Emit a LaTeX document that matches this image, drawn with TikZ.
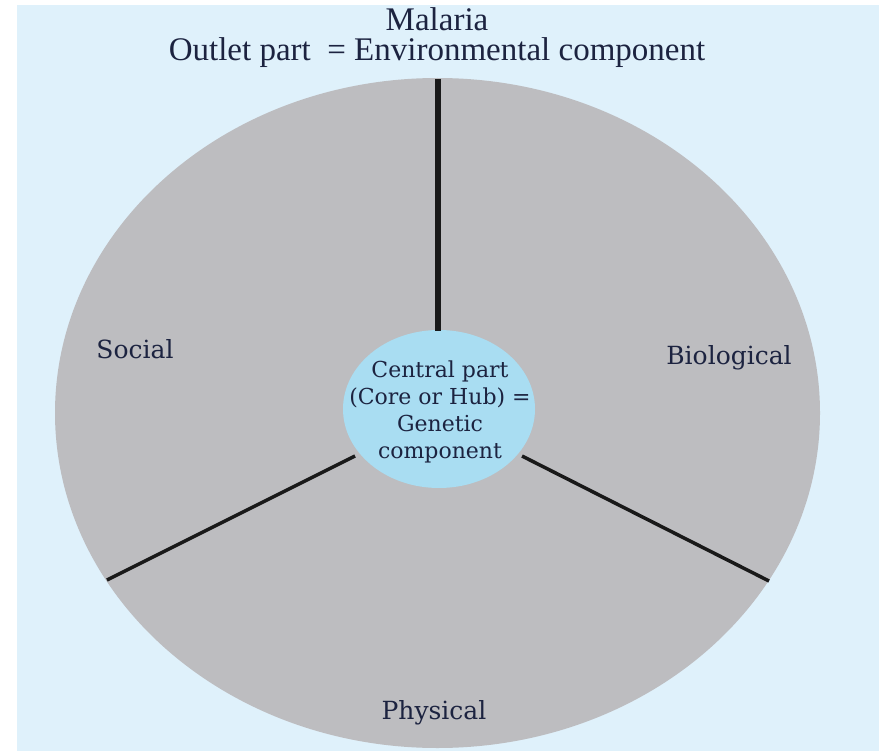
\documentclass[tikz,border=0pt]{standalone}
\usepackage{fontspec}
\setmainfont{Liberation Serif}
\newfontfamily\labfont{DejaVu Serif}
\usetikzlibrary{shapes.geometric}
\definecolor{bgblue}{HTML}{DFF1FB}
\definecolor{disc}{HTML}{BDBDC0}
\definecolor{hub}{HTML}{A9DDF2}
\definecolor{ink}{HTML}{1C2340}
\tikzset{
  lbl/.style={text=ink, font=\labfont\fontsize{25}{30}\selectfont, inner sep=0pt},
  toplbl/.style={text=ink, font=\fontsize{33}{38}\selectfont, inner sep=0pt},
  spoke/.style={draw=black!90, line width=3.5pt},
}
\begin{document}
\begin{tikzpicture}[x=1pt,y=-1pt]
\useasboundingbox (0,0) rectangle (885,751);
\fill[white] (0,0) rectangle (885,751);
\fill[bgblue] (17,5) rectangle (879,751);
% outer disc
\node[ellipse, fill=disc, minimum width=765pt, minimum height=670pt, inner sep=0pt] (outer) at (437.5,413) {};
\coordinate (top) at (438,79);
\coordinate (bl) at (107,580);
\coordinate (br) at (769,581);
% hub
\node[ellipse, fill=hub, minimum width=192pt, minimum height=158pt, inner sep=0pt] (hub) at (439,409) {};
\node[text=ink, align=center, inner sep=0pt, font=\labfont\fontsize{22}{27}\selectfont] (hubtext) at (440,412)
  {Central part\\(Core or Hub) =\\Genetic\\component};
\coordinate (hubtop) at (438,331);
\coordinate (hubl) at (355,456);
\coordinate (hubr) at (522,456);
\draw[spoke, line width=6pt] (top) -- (hubtop);
\draw[spoke] (hubl) -- (bl);
\draw[spoke] (hubr) -- (br);
% labels
\node[toplbl] (malaria) at (437,19) {Malaria};
\node[toplbl] (outlet) at (437,53) {Outlet part\ \ = Environmental component};
\node[lbl] (social) at (135,349) {Social};
\node[lbl] (bio) at (729,358) {Biological};
\node[lbl] (phys) at (434,713) {Physical};
\end{tikzpicture}
\end{document}
